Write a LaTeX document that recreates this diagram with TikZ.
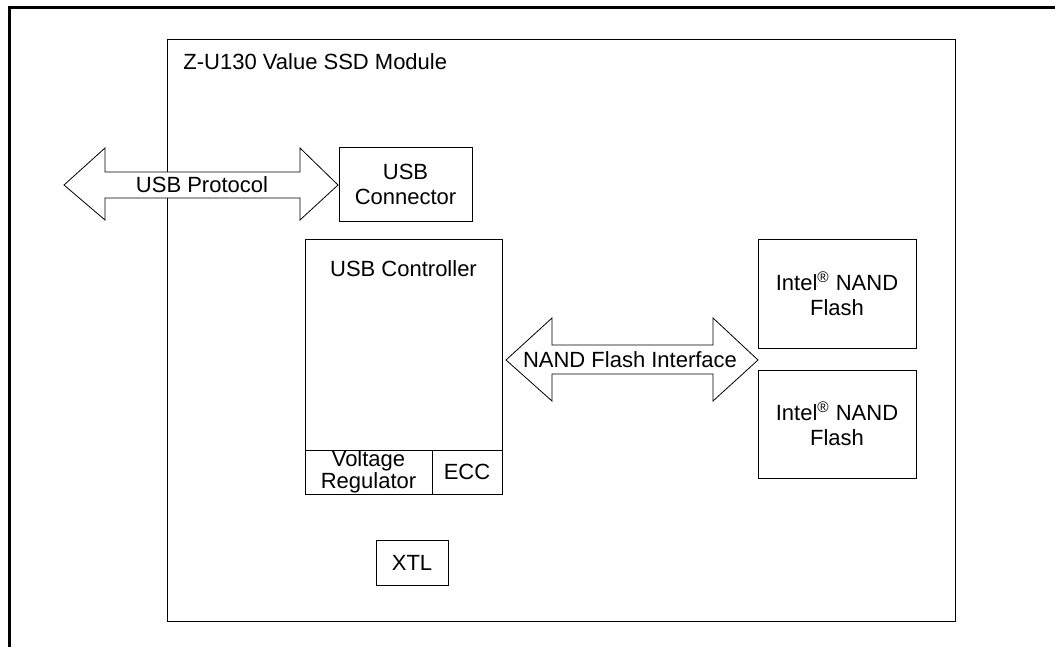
\documentclass[tikz,border=0pt]{standalone}
\usepackage{fontspec}
\setmainfont{Liberation Sans}
\begin{document}
\begin{tikzpicture}[x=0.5pt,y=-0.5pt,
  lbl/.style={font=\fontsize{11}{12.5}\selectfont, inner sep=0pt, align=center},
  blk/.style={draw=black, line width=0.5pt},
  bigarrow/.style={draw=black, line width=0.4pt, fill=white, line join=miter}]
\useasboundingbox (0,0) rectangle (1055,647);
% outer frame (top and left)
\draw[line width=1.1pt] (9.5,647) -- (9.5,7.5) -- (1055,7.5);
% module
\draw[blk] (167,40) rectangle (955,621);
\node[lbl, anchor=west] (title) at (183,62) {Z-U130 Value SSD Module};
% USB connector
\draw[blk] (339,148) rectangle (472,221);
\node[lbl] (conn) at (405.5,184.5) {USB\\Connector};
% USB protocol arrow
\draw[bigarrow] (64,185) -- (105,148) -- (105,172) -- (300,172) -- (300,148) -- (338,185)
  -- (300,220) -- (300,198) -- (105,198) -- (105,220) -- cycle;
\node[lbl] (usbp) at (202,185) {USB Protocol};
% USB controller
\draw[blk] (305,239) rectangle (502,494);
\draw[blk] (305,450) -- (502,450);
\draw[blk] (432,450) -- (432,494);
\node[lbl] (ctrl) at (403.5,269) {USB Controller};
\node[lbl, font=\fontsize{11}{11}\selectfont] (vreg) at (368.5,472) {Voltage\\Regulator};
\node[lbl] (ecc) at (467,472) {ECC};
% NAND flash interface arrow
\draw[bigarrow] (506,360) -- (552,318) -- (552,345) -- (713,345) -- (713,318) -- (758,360)
  -- (713,401) -- (713,374) -- (552,374) -- (552,401) -- cycle;
\node[lbl] (nfi) at (630,360) {NAND Flash Interface};
% Flash chips
\draw[blk] (758,239) rectangle (916,348);
\node[lbl] (f1) at (837,293.5) {Intel\textsuperscript{®} NAND\\Flash};
\draw[blk] (758,370) rectangle (916,478);
\node[lbl] (f2) at (837,424) {Intel\textsuperscript{®} NAND\\Flash};
% XTL
\draw[blk] (376,540) rectangle (448,585);
\node[lbl] (xtl) at (412,562.5) {XTL};
\end{tikzpicture}
\end{document}
